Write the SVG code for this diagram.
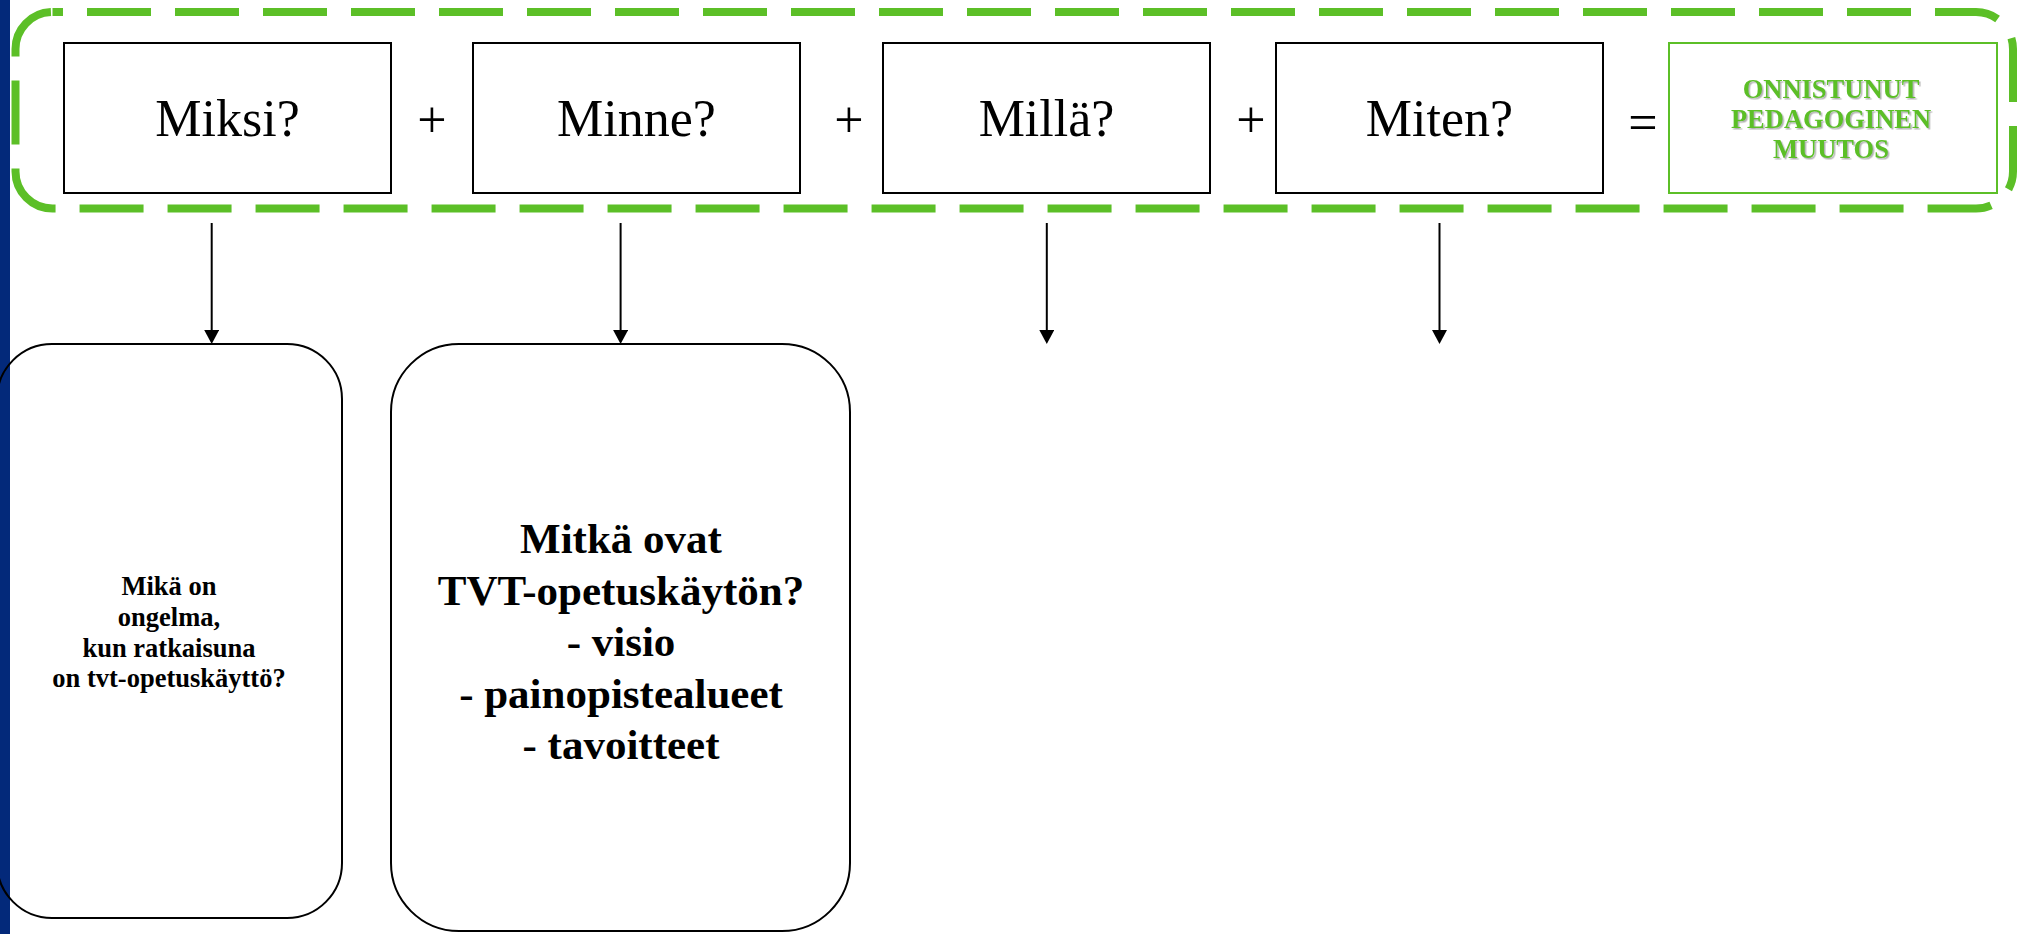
<svg xmlns="http://www.w3.org/2000/svg" width="2023" height="934" viewBox="0 0 2023 934">
<defs>
<style>
.box{fill:#fff;stroke:#000;stroke-width:2}
.rbox{fill:none;stroke:#000;stroke-width:2}
.lbl{font-family:"Liberation Serif","Times New Roman",serif;font-size:52px;fill:#000;text-anchor:middle}
.op{font-family:"Liberation Serif","Times New Roman",serif;font-size:52px;fill:#000;text-anchor:middle}
.gtxt{font-family:"Liberation Serif","Times New Roman",serif;font-size:26.5px;font-weight:bold;fill:#5cbf27;text-anchor:middle}
.btxt{font-family:"Liberation Serif","Times New Roman",serif;font-weight:bold;fill:#000;text-anchor:middle}
.conn{stroke:#000;stroke-width:2;fill:none}
</style>
<marker id="arr" viewBox="0 0 14 15" refX="7" refY="7.5" markerWidth="14" markerHeight="15" markerUnits="userSpaceOnUse" orient="auto">
<path d="M0,0 L14,7.5 L0,15 z" fill="#000"/>
</marker>
<filter id="sh" x="-10%" y="-20%" width="130%" height="150%">
<feDropShadow dx="1.5" dy="1.5" stdDeviation="0.7" flood-color="#808080" flood-opacity="0.6"/>
</filter>
</defs>
<rect x="0" y="0" width="2023" height="934" fill="#fff"/>
<rect id="sidebar" x="0" y="0" width="10" height="934" fill="#03297a"/>

<g id="container">
<rect x="15.5" y="12" width="1997.5" height="196.5" rx="37" ry="37" fill="none" stroke="#5cbf27" stroke-width="8" stroke-dasharray="64 24" stroke-dashoffset="53.5"/>
</g>

<g id="node-miksi">
<rect class="box" x="64" y="43" width="327" height="150"/>
<text class="lbl" x="227.5" y="136">Miksi?</text>
</g>
<g id="plus1"><text class="op" x="432" y="137">+</text></g>
<g id="node-minne">
<rect class="box" x="473" y="43" width="327" height="150"/>
<text class="lbl" x="636.5" y="136">Minne?</text>
</g>
<g id="plus2"><text class="op" x="849" y="137">+</text></g>
<g id="node-milla">
<rect class="box" x="883" y="43" width="327" height="150"/>
<text class="lbl" x="1046.5" y="136">Millä?</text>
</g>
<g id="plus3"><text class="op" x="1251" y="137">+</text></g>
<g id="node-miten">
<rect class="box" x="1276" y="43" width="327" height="150"/>
<text class="lbl" x="1439.5" y="136">Miten?</text>
</g>
<g id="equals"><text class="op" x="1643" y="140">=</text></g>
<g id="node-result">
<rect x="1669" y="43" width="328" height="150" fill="#fff" stroke="#5cbf27" stroke-width="2"/>
<g filter="url(#sh)">
<text class="gtxt" x="1831" y="98">ONNISTUNUT</text>
<text class="gtxt" x="1831" y="128">PEDAGOGINEN</text>
<text class="gtxt" x="1831" y="158">MUUTOS</text>
</g>
</g>

<g id="connectors">
<line class="conn" x1="211.7" y1="223" x2="211.7" y2="337" marker-end="url(#arr)"/>
<line class="conn" x1="620.6" y1="223" x2="620.6" y2="337" marker-end="url(#arr)"/>
<line class="conn" x1="1046.8" y1="223" x2="1046.8" y2="337" marker-end="url(#arr)"/>
<line class="conn" x1="1439.5" y1="223" x2="1439.5" y2="337" marker-end="url(#arr)"/>
</g>

<g id="node-why-detail">
<rect class="rbox" x="-3" y="344" width="345" height="574" rx="55" ry="55"/>
<text class="btxt" font-size="26.5" x="169" y="595">Mikä on</text>
<text class="btxt" font-size="26.5" x="169" y="626">ongelma,</text>
<text class="btxt" font-size="26.5" x="169" y="656.5">kun ratkaisuna</text>
<text class="btxt" font-size="26.5" x="169" y="687">on tvt-opetuskäyttö?</text>
</g>

<g id="node-where-detail">
<rect class="rbox" x="391" y="344" width="459" height="587" rx="68" ry="68"/>
<text class="btxt" font-size="43" x="621" y="553">Mitkä ovat</text>
<text class="btxt" font-size="43" x="621" y="604.5">TVT-opetuskäytön?</text>
<text class="btxt" font-size="43" x="621" y="656">- visio</text>
<text class="btxt" font-size="43" x="621" y="707.5">- painopistealueet</text>
<text class="btxt" font-size="43" x="621" y="759">- tavoitteet</text>
</g>
</svg>
